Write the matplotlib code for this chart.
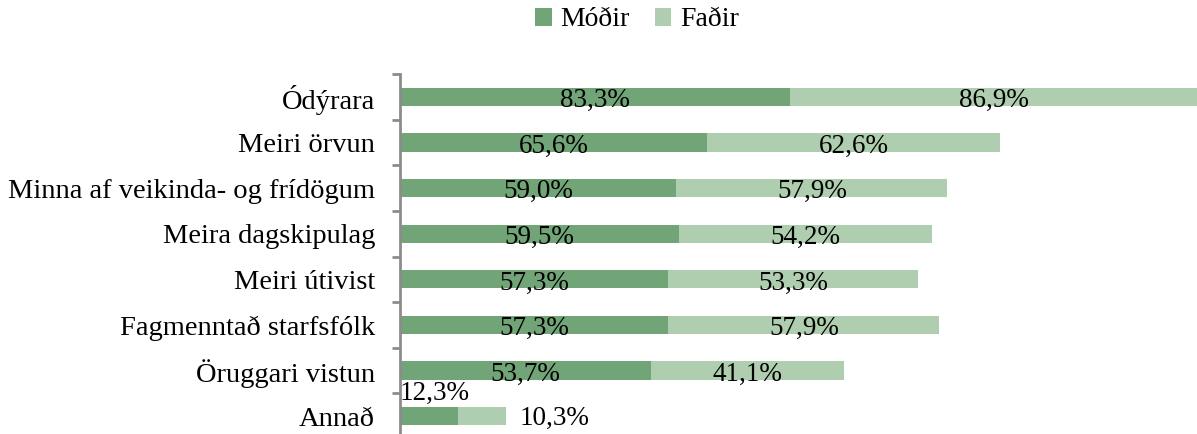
import matplotlib
matplotlib.use("Agg")
import matplotlib.pyplot as plt
import numpy as np

categories = ["Ódýrara", "Meiri örvun", "Minna af veikinda- og frídögum", "Meira dagskipulag",
              "Meiri útivist", "Fagmenntað starfsfólk", "Öruggari vistun", "Annað"]
modir = [83.3, 65.6, 59.0, 59.5, 57.3, 57.3, 53.7, 12.3]
fadir = [86.9, 62.6, 57.9, 54.2, 53.3, 57.9, 41.1, 10.3]
series_names = ["Móðir", "Faðir"]

c_dark = "#71A476"
c_light = "#AFCEAF"
plt.rcParams['font.family'] = ['Liberation Serif', 'DejaVu Serif']

fig = plt.figure(figsize=(11.97, 4.34), dpi=100)
ax = fig.add_axes([400/1197, -5/434, 1 - 400/1197, (439-74)/434])

y = np.arange(len(categories))
h = 0.4
b1 = ax.barh(y, modir, height=h, color=c_dark, label=series_names[0])
b2 = ax.barh(y, fadir, left=modir, height=h, color=c_light, label=series_names[1])

def fmt(v):
    return f"{v:.1f}%".replace(".", ",")

fs = 19.5
for i in range(len(categories)):
    if i == len(categories) - 1:
        ax.text(0, i - 0.5, fmt(modir[i]), ha="left", va="center", fontsize=fs)
        ax.text(modir[i] + fadir[i] + 3, i + 0.05, fmt(fadir[i]), ha="left", va="center", fontsize=fs)
    else:
        ax.text(modir[i] / 2, i + 0.08, fmt(modir[i]), ha="center", va="center", fontsize=fs)
        ax.text(modir[i] + fadir[i] / 2, i + 0.08, fmt(fadir[i]), ha="center", va="center", fontsize=fs)

ax.set_xlim(0, 170.2)
ax.set_ylim(len(categories) - 0.5, -0.5)
ax.set_yticks(y)
ax.set_yticklabels(categories, fontsize=20.5)
ax.tick_params(axis="y", which="major", length=0, pad=18)
ax.set_yticks(np.arange(-0.5, len(categories) - 0.5 + 0.01, 1), minor=True)
ax.tick_params(axis="y", which="minor", length=6, width=2, color="#8C8C8C", direction="out")
ax.set_xticks([])
for s in ["top", "right", "bottom"]:
    ax.spines[s].set_visible(False)
ax.spines["left"].set_color("#8C8C8C")
ax.spines["left"].set_linewidth(2)

fig.legend(handles=[b1, b2], labels=series_names, loc="center", bbox_to_anchor=(637/1197, 1 - 20/434),
           ncol=2, frameon=False, fontsize=20, handlelength=0.6, handleheight=0.6,
           handletextpad=0.3, columnspacing=0.9)

fig.savefig("out.png", dpi=100)
